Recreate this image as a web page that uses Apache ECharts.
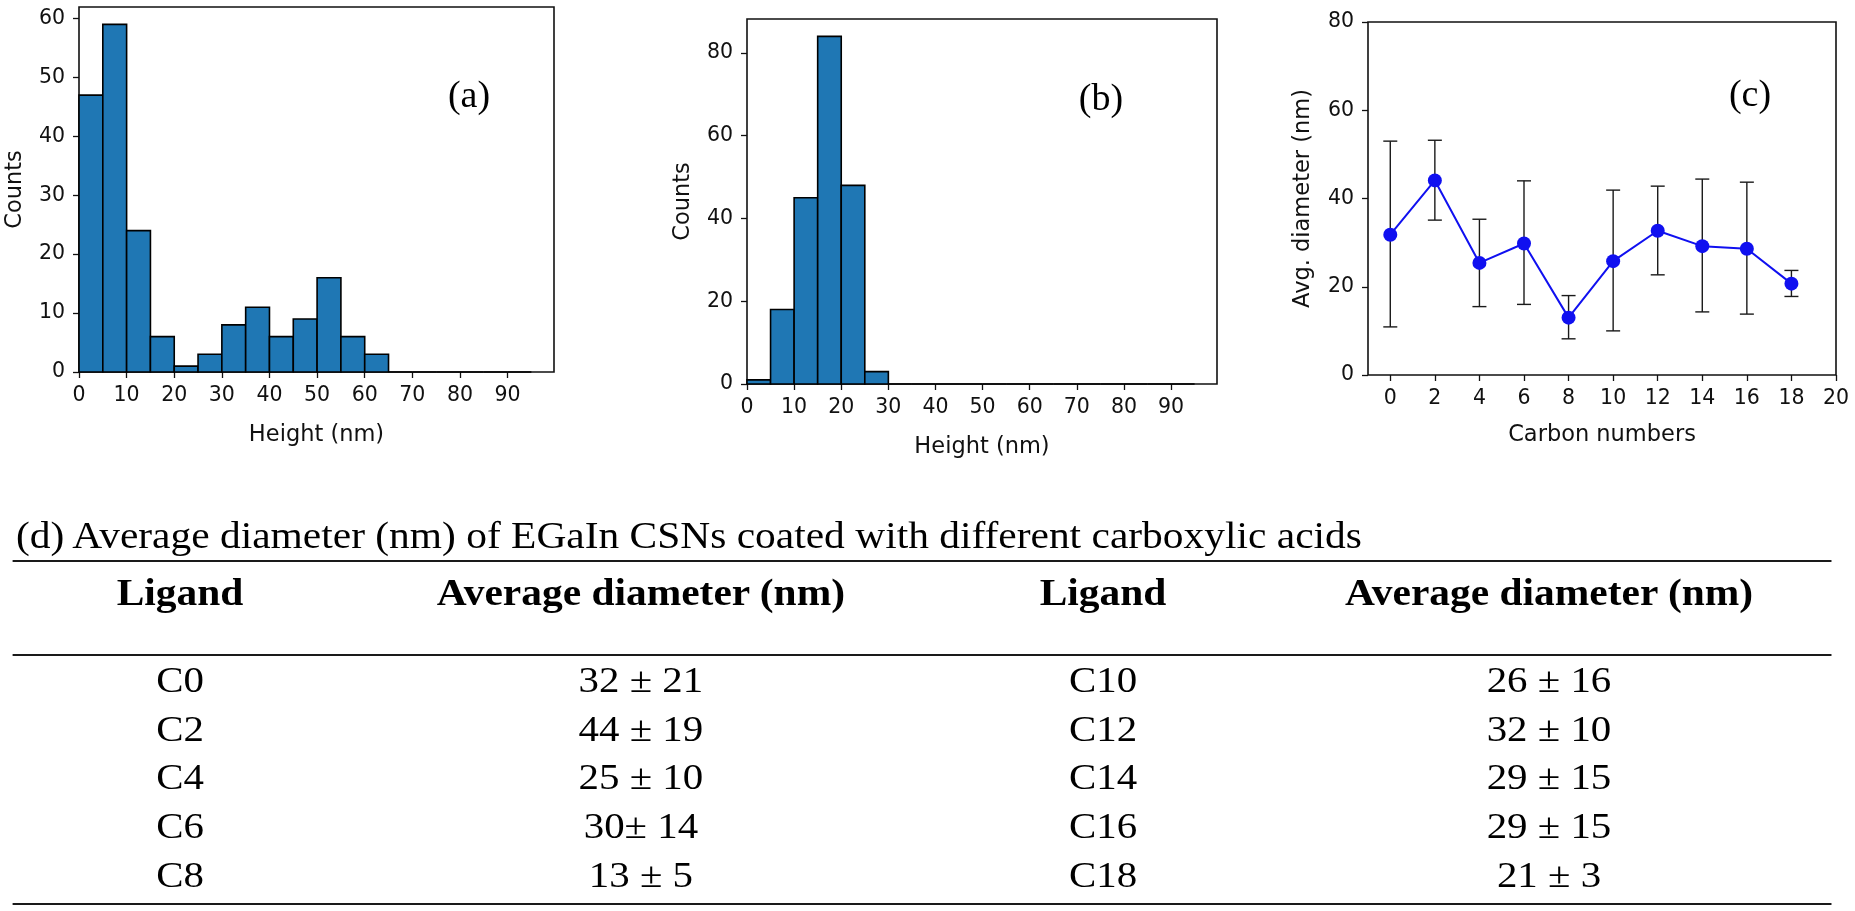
<!DOCTYPE html>
<html>
<head>
<meta charset="utf-8">
<script src="https://cdn.jsdelivr.net/npm/echarts@6/dist/echarts.min.js"></script>
<style>
  html, body { margin:0; padding:0; background:#fff; width:1855px; height:911px; overflow:hidden; }
  #chart { position:absolute; left:0; top:0; width:1855px; height:470px; }
  #tbl { position:absolute; left:7px; top:0; width:1650px; height:911px; transform:scaleX(1.12); transform-origin:0 0; font-family:"Liberation Serif","Times New Roman",serif; color:#000; }
  .rule { position:absolute; left:5.4px; width:1624px; height:2px; background:#1a1a1a; }
  .cell { position:absolute; width:400px; margin-left:-200px; text-align:center; white-space:nowrap; }
</style>
</head>
<body>
<div id="chart"></div>
<div id="tbl"></div>
<script>
// ---------- data ----------
const binLeft   = [0, 5, 10, 15, 20, 25, 30, 35, 40, 45, 50, 55, 60, 65, 70, 75, 80, 85, 90];
const binWidth  = 5;
const countsA   = [47, 59, 24, 6, 1, 3, 8, 11, 6, 9, 16, 6, 3, 0, 0, 0, 0, 0, 0];
const countsB   = [1, 18, 45, 84, 48, 3, 0, 0, 0, 0, 0, 0, 0, 0, 0, 0, 0, 0, 0];
const heightTicks = [0, 10, 20, 30, 40, 50, 60, 70, 80, 90];
const countTicksA = [0, 10, 20, 30, 40, 50, 60];
const countTicksB = [0, 20, 40, 60, 80];

const carbonNumbers = [0, 2, 4, 6, 8, 10, 12, 14, 16, 18];
const avgDiameter   = [31.8, 44.1, 25.4, 29.8, 13.0, 25.8, 32.7, 29.2, 28.6, 20.7];
const errLower      = [10.9, 35.1, 15.5, 16.0, 8.2, 10.0, 22.7, 14.3, 13.8, 17.8];
const errUpper      = [53.0, 53.2, 35.3, 44.0, 18.0, 41.9, 42.8, 44.4, 43.7, 23.7];
const carbonTicks   = [0, 2, 4, 6, 8, 10, 12, 14, 16, 18, 20];
const diamTicks     = [0, 20, 40, 60, 80];

const tableCaption = '(d) Average diameter (nm) of EGaIn CSNs coated with different carboxylic acids';
const tableHeaders = ['Ligand', 'Average diameter (nm)', 'Ligand', 'Average diameter (nm)'];
const ligands  = ['C0', 'C2', 'C4', 'C6', 'C8', 'C10', 'C12', 'C14', 'C16', 'C18'];
const diamText = ['32 ± 21', '44 ± 19', '25 ± 10', '30± 14', '13 ± 5', '26 ± 16', '32 ± 10', '29 ± 15', '29 ± 15', '21 ± 3'];

// ---------- chart ----------
const FONT = 'DejaVu Sans';
const INK = '#111';
function axisCfg(gi, min, max, ticks, name, gap, margin) {
  return {
    type: 'value', gridIndex: gi, min: min, max: max,
    name: name, nameLocation: 'middle', nameGap: gap,
    nameTextStyle: { fontFamily: FONT, fontSize: 22.5, color: INK },
    axisLine: { show: false, onZero: false },
    axisTick: { show: true, inside: false, length: 6, customValues: ticks, lineStyle: { color: INK, width: 1.3 } },
    axisLabel: { customValues: ticks, fontFamily: FONT, fontSize: 20.5, color: INK, margin: margin },
    splitLine: { show: false }
  };
}
function histRender(params, api) {
  const x0 = api.value(0), c = api.value(1);
  const p0 = api.coord([x0, 0]);
  const p1 = api.coord([x0 + binWidth, c]);
  return {
    type: 'rect',
    shape: { x: p0[0], y: p1[1], width: p1[0] - p0[0], height: p0[1] - p1[1] },
    style: { fill: '#1f77b4', stroke: '#000', lineWidth: 1.6 }
  };
}
function errRender(params, api) {
  const x = api.value(0);
  const lo = api.coord([x, api.value(1)]);
  const hi = api.coord([x, api.value(2)]);
  const hw = 7;
  const st = { stroke: '#1a1a1a', lineWidth: 1.4 };
  return {
    type: 'group',
    children: [
      { type: 'line', shape: { x1: lo[0], y1: lo[1], x2: hi[0], y2: hi[1] }, style: st },
      { type: 'line', shape: { x1: lo[0] - hw, y1: lo[1], x2: lo[0] + hw, y2: lo[1] }, style: st },
      { type: 'line', shape: { x1: hi[0] - hw, y1: hi[1], x2: hi[0] + hw, y2: hi[1] }, style: st }
    ]
  };
}
const gridStyle = { show: true, borderColor: INK, borderWidth: 1.6, backgroundColor: 'transparent' };
const labelFont = '38px "Liberation Serif"';

const chart = echarts.init(document.getElementById('chart'), null, { renderer: 'canvas' });
chart.setOption({
  animation: false,
  backgroundColor: '#fff',
  grid: [
    Object.assign({ left: 79, top: 7, width: 475, height: 365 }, gridStyle),
    Object.assign({ left: 747, top: 19, width: 470, height: 365 }, gridStyle),
    Object.assign({ left: 1368, top: 22, width: 468, height: 353 }, gridStyle)
  ],
  xAxis: [
    axisCfg(0, 0, 99.75, heightTicks, 'Height (nm)', 51.5, 13),
    axisCfg(1, 0, 99.75, heightTicks, 'Height (nm)', 51.5, 13),
    axisCfg(2, -1, 20, carbonTicks, 'Carbon numbers', 48.5, 13)
  ],
  yAxis: [
    axisCfg(0, 0, 61.95, countTicksA, 'Counts', 52.5, 14),
    axisCfg(1, 0, 88.2, countTicksB, 'Counts', 52.5, 14),
    axisCfg(2, 0, 80, diamTicks, 'Avg. diameter (nm)', 53.5, 14)
  ],
  graphic: [
    { type: 'text', x: 469, y: 97, style: { text: '(a)', font: labelFont, fill: '#000', align: 'center', verticalAlign: 'middle' } },
    { type: 'text', x: 1101, y: 100, style: { text: '(b)', font: labelFont, fill: '#000', align: 'center', verticalAlign: 'middle' } },
    { type: 'text', x: 1750, y: 96, style: { text: '(c)', font: labelFont, fill: '#000', align: 'center', verticalAlign: 'middle' } }
  ],
  series: [
    { type: 'custom', xAxisIndex: 0, yAxisIndex: 0, renderItem: histRender, encode: { x: 0, y: 1 },
      data: binLeft.map((b, i) => [b, countsA[i]]) },
    { type: 'custom', xAxisIndex: 1, yAxisIndex: 1, renderItem: histRender, encode: { x: 0, y: 1 },
      data: binLeft.map((b, i) => [b, countsB[i]]) },
    { type: 'custom', xAxisIndex: 2, yAxisIndex: 2, renderItem: errRender, encode: { x: 0, y: [1, 2] }, z: 2,
      data: carbonNumbers.map((c, i) => [c, errLower[i], errUpper[i]]) },
    { type: 'line', xAxisIndex: 2, yAxisIndex: 2, z: 3,
      data: carbonNumbers.map((c, i) => [c, avgDiameter[i]]),
      symbol: 'circle', symbolSize: 14,
      lineStyle: { color: '#1010f0', width: 2 },
      itemStyle: { color: '#1010f0' } }
  ]
});

// ---------- table (d) ----------
const tbl = document.getElementById('tbl');
function add(cls, css, text) {
  const d = document.createElement('div');
  d.className = cls;
  d.style.cssText = css;
  if (text !== undefined) d.textContent = text;
  tbl.appendChild(d);
  return d;
}
const colCenters = [154.5, 566, 978.6, 1376.8];
add('', 'position:absolute;left:8px;top:513.5px;font-size:37px;line-height:44px;white-space:nowrap;', tableCaption);
add('rule', 'top:560px;');
add('rule', 'top:654px;');
add('rule', 'top:903px;');
tableHeaders.forEach((h, j) => {
  add('cell', 'left:' + colCenters[j] + 'px;top:573px;font-size:37px;font-weight:bold;line-height:40px;', h);
});
const rowTop0 = 656, rowH = 48.7;
for (let r = 0; r < 5; r++) {
  const top = rowTop0 + r * rowH;
  const vals = [ligands[r], diamText[r], ligands[r + 5], diamText[r + 5]];
  vals.forEach((v, j) => {
    add('cell', 'left:' + colCenters[j] + 'px;top:' + top + 'px;font-size:36.5px;line-height:' + rowH + 'px;', v);
  });
}
</script>
</body>
</html>
